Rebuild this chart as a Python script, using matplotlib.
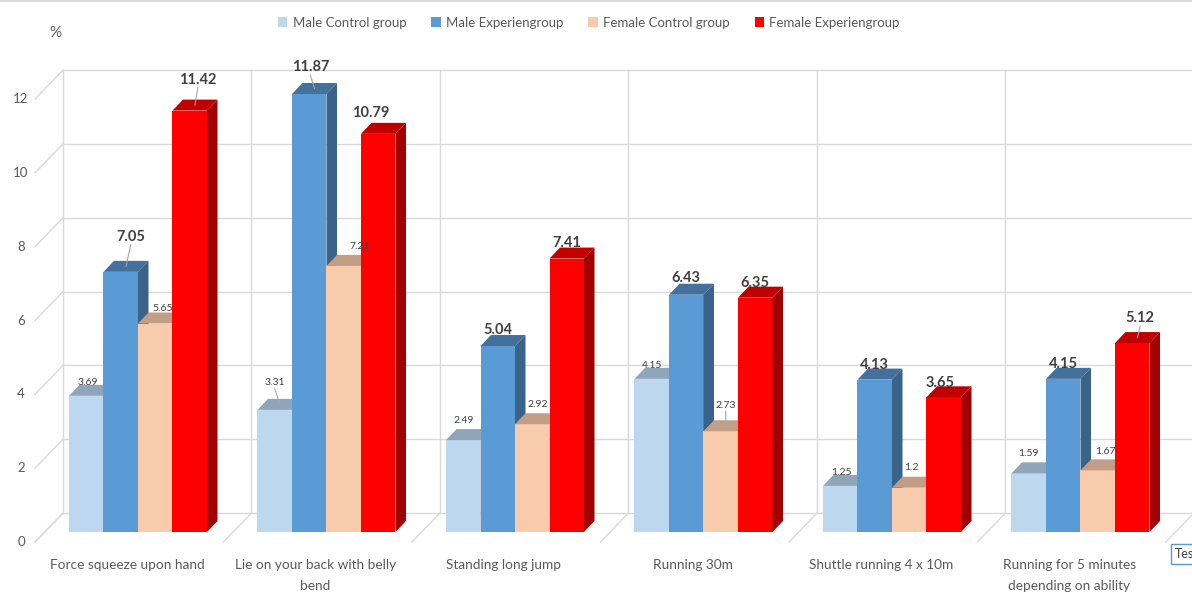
import matplotlib.pyplot as plt
from matplotlib.patches import Polygon

categories = ["Force squeeze upon hand", "Lie on your back with belly\nbend",
              "Standing long jump", "Running 30m", "Shuttle running 4 x 10m",
              "Running for 5 minutes\ndepending on ability"]
series = ["Male Control group", "Male Experiengroup", "Female Control group", "Female Experiengroup"]
male_control = [3.69, 3.31, 2.49, 4.15, 1.25, 1.59]
male_exp = [7.05, 11.87, 5.04, 6.43, 4.13, 4.15]
female_control = [5.65, 7.21, 2.92, 2.73, 1.2, 1.67]
female_exp = [11.42, 10.79, 7.41, 6.35, 3.65, 5.12]
y_ticks = [0, 2, 4, 6, 8, 10, 12]
values = [male_control, male_exp, female_control, female_exp]

front_colors = ['#BDD7EE', '#5B9BD5', '#F8CBAD', '#FF0000']
top_colors = ['#8FA5BA', '#44709C', '#C39E86', '#C00000']
side_colors = ['#8A9FB2', '#3A6389', '#B8917A', '#A00000']
grid_col = '#D9D9D9'
text_col = '#595959'

# label nudges in pixels (dx right, dy above the front top edge)
label_nudge = [
    [(2, 13), (10, 35), (7, 15), (8, 31)],
    [(0, 27), (1, 27), (16, 19), (-8, 21)],
    [(0, 20), (0, 16), (5, 20), (0, 16)],
    [(0, 13), (0, 17), (5, 26), (0, 15)],
    [(1, 13), (0, 15), (2, 20), (-4, 14)],
    [(0, 20), (0, 15), (8, 19), (8, 25)],
]

plt.rcParams['font.family'] = ['Lato', 'DejaVu Sans']

W, H = 1192, 594
SX, SY = 188.5, 36.9          # pixels per category / per unit
X0, Y0 = 138, 532             # pixel of first group center / value 0


def px(d):
    return d / SX


def py(d):
    return d / SY


fig = plt.figure(figsize=(W / 100, H / 100), dpi=100)
ax = fig.add_axes([0, 0, 1, 1])
ax.set_xlim(-X0 / SX, (W - X0) / SX)
ax.set_ylim(-(H - Y0) / SY, Y0 / SY)
ax.axis('off')

n = len(categories)
back_dy = py(19)
front_dy = -py(10)
back_x = [k - 0.5 + 0.102 for k in range(n + 1)]
right_edge = (W - X0) / SX + 0.1

# back wall + left wall grid
for v in y_ticks:
    ax.plot([back_x[0], right_edge], [v + back_dy, v + back_dy], color=grid_col, lw=1, zorder=1)
    ax.plot([back_x[0] - px(28), back_x[0]], [v + front_dy, v + back_dy], color=grid_col, lw=1, zorder=1)
    ax.text((21 - X0) / SX, v + front_dy, str(v), ha='center', va='center',
            fontsize=9.5, color=text_col)
for k in range(n + 1):
    ax.plot([back_x[k], back_x[k]], [back_dy, max(y_ticks) + back_dy], color=grid_col, lw=1, zorder=1)
    ax.plot([back_x[k] - px(28), back_x[k]], [front_dy, back_dy], color=grid_col, lw=1, zorder=1)

# 3d bars
bw = px(34.5)
ddx, ddy = px(10.5), py(11)
handles = []
for j, vals in enumerate(values):
    xs = [i + (j - 1.5) * bw for i in range(n)]
    z = 3 + j
    b = ax.bar(xs, vals, width=bw, color=front_colors[j], label=series[j], zorder=z)
    handles.append(b)
    for i, (x, h) in enumerate(zip(xs, vals)):
        x0, x1 = x - bw / 2, x + bw / 2
        ax.add_patch(Polygon([(x0, h), (x1, h), (x1 + ddx, h + ddy), (x0 + ddx, h + ddy)],
                             closed=True, color=top_colors[j], zorder=z, lw=0))
        ax.add_patch(Polygon([(x1, 0), (x1 + ddx, ddy), (x1 + ddx, h + ddy), (x1, h)],
                             closed=True, color=side_colors[j], zorder=z, lw=0))
        nx, ny = label_nudge[i][j]
        lx, ly = x + px(nx), h + py(ny)
        big = j in (1, 3)
        ax.text(lx, ly, f"{h:g}", ha='center', va='center', zorder=10,
                fontsize=10.5 if big else 7.5, fontweight='bold' if big else 'normal',
                color='#404040')
        if ny > 22:
            ax.plot([x + ddx / 2, lx], [h + ddy / 2, ly - py(8 if big else 6)],
                    color='#A6A6A6', lw=0.8, zorder=9)

# category labels
for i, c in enumerate(categories):
    ax.text(i + px(127 - X0), -py(559 - Y0), c, ha='center', va='top',
            fontsize=9.8, color=text_col, linespacing=1.9)

ax.text(px(55 - X0), py(Y0 - 33), '%', ha='center', va='center', fontsize=11, color=text_col)
ax.plot([-X0 / SX, right_edge], [py(Y0 - 1)] * 2, color=grid_col, lw=1.5)
ax.text(px(1175 - X0), -py(554 - Y0), 'Tes', ha='left', va='center', fontsize=9, color='#404040',
        bbox=dict(boxstyle='square,pad=0.3', facecolor='white', edgecolor='#5B9BD5', lw=1))

fig.legend(handles=handles, loc='center', bbox_to_anchor=(0.494, 0.962), ncol=4,
           frameon=False, fontsize=9.5, handlelength=0.7, handleheight=0.7,
           handletextpad=0.4, columnspacing=1.9, labelcolor=text_col)

fig.savefig('out.png', dpi=100)
